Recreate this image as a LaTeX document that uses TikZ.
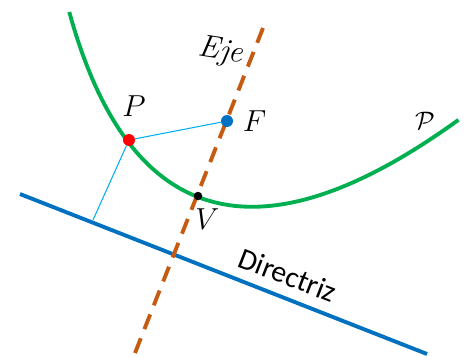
\documentclass[tikz,border=0pt]{standalone}
\usepackage{fontspec}
\newfontfamily\dirfont{Carlito}
\usetikzlibrary{positioning}
\definecolor{parGreen}{HTML}{00B050}
\definecolor{dirBlue}{HTML}{0070C0}
\definecolor{ejeOrange}{HTML}{C55A11}
\definecolor{segCyan}{HTML}{00B0F0}
\tikzset{
  parab/.style={draw=parGreen, line width=2.2pt},
  dirline/.style={draw=dirBlue, line width=2.2pt},
  ejeline/.style={draw=ejeOrange, line width=2.2pt,
        dash pattern=on 9pt off 5.6pt},
  seg/.style={draw=segCyan, line width=0.6pt},
  pto/.style={circle, inner sep=0pt, minimum size=0.24cm},
  lab/.style={font=\fontsize{18}{21}\selectfont, inner sep=1pt}
}

\begin{document}
\begin{tikzpicture}[x=0.02cm, y=-0.02cm]
\useasboundingbox (0,0) rectangle (465,356);
% ends of the lines
\coordinate (dirA) at (20,194);
\coordinate (dirB) at (427,354);
\coordinate (ejeA) at (135,353);
\coordinate (ejeB) at (263,28);
\coordinate (pie) at (93,220);

\draw[dirline] (dirA) -- (dirB);
\draw[ejeline] (ejeA) -- (ejeB);
% parabola, vertex (198,197), t in hundreds of px
\draw[parab] plot[domain=-1.87:2.15, samples=80, smooth]
  ({198+93.2*\x+13.03*\x*\x},{197+36.2*\x-33.55*\x*\x});

\node[pto, fill=red] (P) at (129,140) {};
\node[pto, fill=dirBlue] (F) at (227,121) {};
\node[pto, fill=black, minimum size=0.17cm] (V) at (198,196) {};

\draw[seg] (P) -- (F);
\draw[seg] (P) -- (pie);

\node[lab, above=0.3cm of P, xshift=0.1cm] (Plab) {$P$};
\node[lab, right=0.15cm of F] (Flab) {$F$};
\node[lab, below right=0.14cm and -0.16cm of V] (Vlab) {$V$};
\node[lab, rotate=-9] (Ejelab) at (221,52) {\textit{Eje}};
\node[lab, font=\fontsize{15}{18}\selectfont] (Parlab) at (425,121) {$\mathcal{P}$};
\node[lab, font=\dirfont\fontsize{17}{20}\selectfont, rotate=-21.2]
  (Dirlab) at (288,275) {Directriz};
\end{tikzpicture}
\end{document}
